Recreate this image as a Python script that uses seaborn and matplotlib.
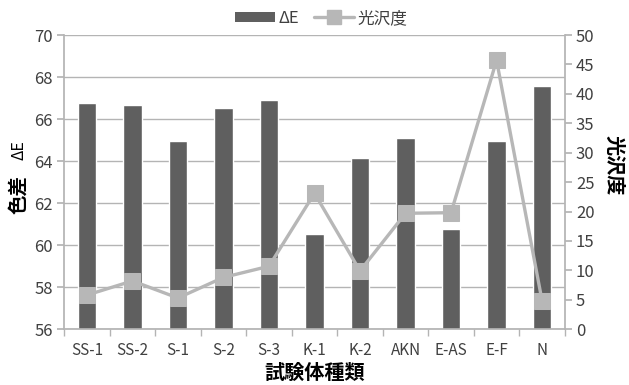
import numpy as np
import pandas as pd
import seaborn as sns
import matplotlib
matplotlib.use("Agg")
import matplotlib.pyplot as plt
from matplotlib.lines import Line2D
from matplotlib.patches import Patch

# Specimen types and measured values
categories = ["SS-1", "SS-2", "S-1", "S-2", "S-3", "K-1", "K-2", "AKN", "E-AS", "E-F", "N"]
delta_e = [66.76, 66.67, 64.95, 66.52, 66.90, 60.52, 64.14, 65.10, 60.76, 64.95, 67.57]
gloss = [5.8, 8.2, 5.3, 8.8, 10.7, 23.1, 9.9, 19.7, 19.8, 45.7, 4.8]

sns.set_theme(style="white")
plt.rcParams["font.family"] = ["Noto Sans CJK JP", "DejaVu Sans"]

bar_color = "#5f5f5f"
line_color = "#b7b7b7"
grid_color = "#b4b4b4"
text_color = "#404040"

df = pd.DataFrame({"cat": categories, "de": delta_e, "gloss": gloss})

fig = plt.figure(figsize=(6.29, 3.85), dpi=100)
ax = fig.add_axes([0.102, 0.145, 0.796, 0.764])

# bars rise from zero; the axis floor at 56 clips them
sns.barplot(data=df, x="cat", y="de", color=bar_color, width=0.4,
            saturation=1, ax=ax, zorder=2)
ax.set_ylim(56, 70)
ax.set_xlim(-0.5, len(categories) - 0.5)
ax.set_yticks(np.arange(56, 71, 2))
ax.yaxis.grid(True, color=grid_color, linewidth=1.0, zorder=0)
ax.set_axisbelow(True)

ax2 = ax.twinx()
sns.lineplot(x=np.arange(len(categories)), y=gloss, ax=ax2, color=line_color,
             linewidth=2.4, marker="s", markersize=11, markeredgecolor=line_color,
             markerfacecolor=line_color, zorder=3)
ax2.set_ylim(0, 50)
ax2.set_yticks(np.arange(0, 51, 5))

for a in (ax, ax2):
    for s in a.spines.values():
        s.set_visible(False)
ax.spines["left"].set_visible(True)
ax.spines["left"].set_color(grid_color)
ax.spines["bottom"].set_visible(True)
ax.spines["bottom"].set_color(grid_color)
ax2.spines["right"].set_visible(True)
ax2.spines["right"].set_color(grid_color)

# category ticks between bars
ax.set_xticks(np.arange(len(categories)))
ax.set_xticklabels(categories)
ax.set_xticks(np.arange(-0.5, len(categories)), minor=True)
ax.tick_params(axis="x", which="major", length=0, pad=9, labelsize=11, labelcolor=text_color)
ax.tick_params(axis="x", which="minor", length=5, color=grid_color, direction="out", bottom=True)
ax.tick_params(axis="y", length=5, color=grid_color, direction="out", left=True,
               labelsize=12, labelcolor=text_color, pad=3)
ax2.tick_params(axis="y", length=5, color=grid_color, direction="out", right=True,
                labelsize=12, labelcolor=text_color, pad=3)

ax.set_xlabel("試験体種類", fontsize=14.5, fontweight="bold", color="black", labelpad=2)
ax.set_ylabel("")
ax2.set_ylabel("")

fig.text(0.030, 0.495, "色差", rotation=90, fontsize=14, fontweight="bold",
         ha="center", va="center", color="black")
fig.text(0.030, 0.61, "ΔE", rotation=90, fontsize=11.5, ha="center", va="center", color="black")
fig.text(0.977, 0.57, "光沢度", rotation=270, fontsize=14.5, fontweight="bold",
         ha="center", va="center", color="black")

handles = [Patch(facecolor=bar_color, edgecolor="none"),
           Line2D([0], [0], color=line_color, linewidth=2.4, marker="s",
                  markersize=10, markerfacecolor=line_color, markeredgecolor=line_color)]
fig.legend(handles, ["ΔE", "光沢度"], loc="center", bbox_to_anchor=(0.51, 0.952), ncol=2,
           frameon=False, fontsize=12, handlelength=2.4, handleheight=0.6,
           columnspacing=0.9, handletextpad=0.2, labelcolor=text_color)

fig.savefig("out.png", dpi=100)
